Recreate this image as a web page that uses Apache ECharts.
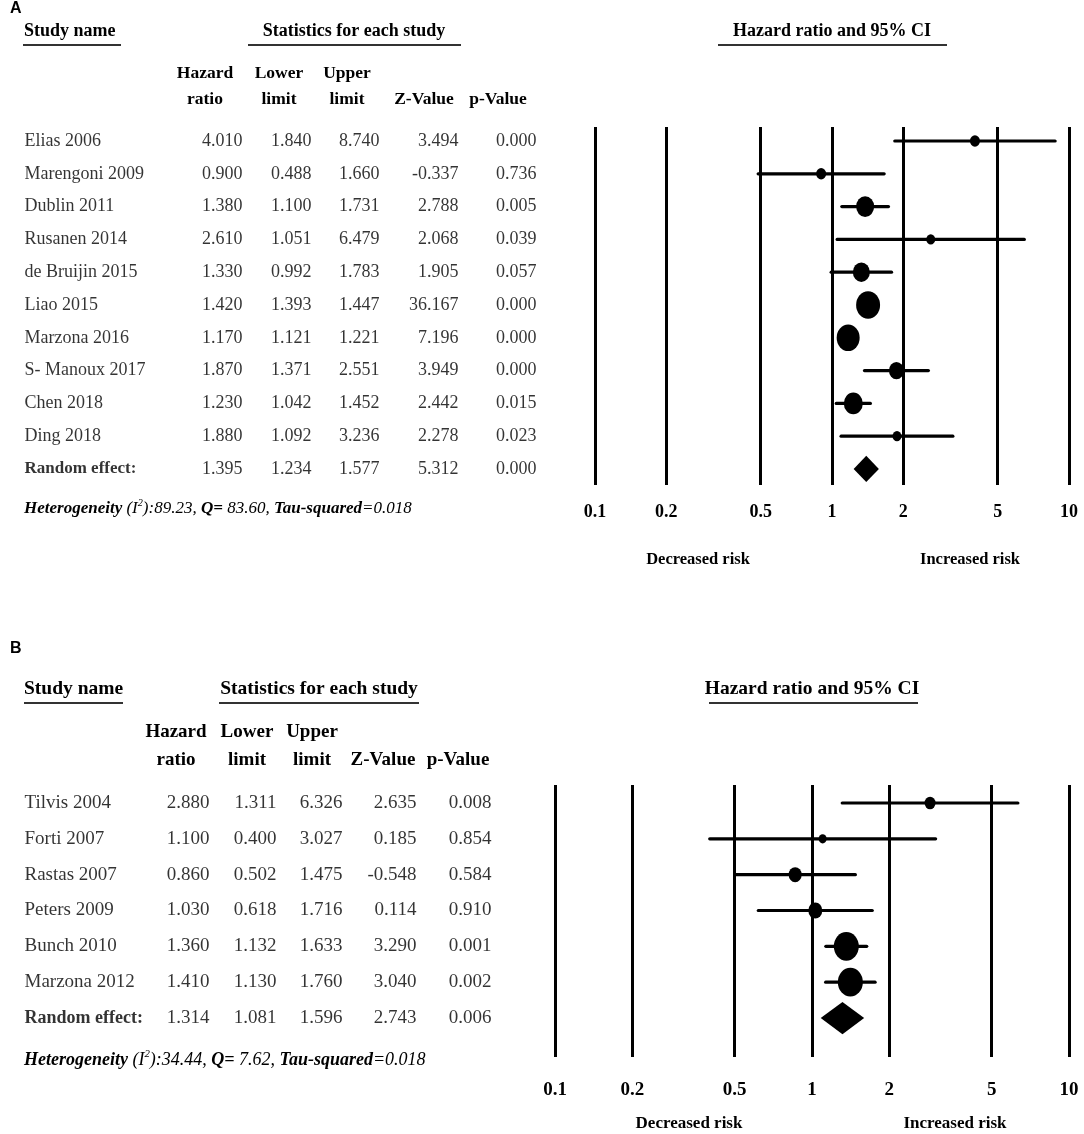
<!DOCTYPE html>
<html><head><meta charset="utf-8">
<script src="https://cdn.jsdelivr.net/npm/echarts@6/dist/echarts.min.js"></script>
<style>html,body{margin:0;padding:0;background:#fff}#c{width:1084px;height:1134px}</style>
</head><body><div id="c"></div>
<script>
// ---------- DATA ----------
const ticks = [0.1, 0.2, 0.5, 1, 2, 5, 10];
const colHeaders = ['Hazard\nratio', 'Lower\nlimit', 'Upper\nlimit', 'Z-Value', 'p-Value'];

const studiesA = ['Elias 2006','Marengoni 2009','Dublin 2011','Rusanen 2014','de Bruijin 2015','Liao 2015','Marzona 2016','S- Manoux 2017','Chen 2018','Ding 2018'];
const hrA    = [4.010, 0.900, 1.380, 2.610, 1.330, 1.420, 1.170, 1.870, 1.230, 1.880];
const lowerA = [1.840, 0.488, 1.100, 1.051, 0.992, 1.393, 1.121, 1.371, 1.042, 1.092];
const upperA = [8.740, 1.660, 1.731, 6.479, 1.783, 1.447, 1.221, 2.551, 1.452, 3.236];
const zA     = [3.494, -0.337, 2.788, 2.068, 1.905, 36.167, 7.196, 3.949, 2.442, 2.278];
const pA     = [0.000, 0.736, 0.005, 0.039, 0.057, 0.000, 0.000, 0.000, 0.015, 0.023];
const weightsA = [4.0, 4.0, 13.0, 3.2, 11.6, 23.0, 21.2, 9.0, 14.4, 3.2];
const pooledA = [1.395, 1.234, 1.577, 5.312, 0.000]; // HR, lower, upper, Z, p
const hetA = ['89.23', '83.60', '0.018'];             // I2, Q, tau-squared

const studiesB = ['Tilvis 2004','Forti 2007','Rastas 2007','Peters 2009','Bunch 2010','Marzona 2012'];
const hrB    = [2.880, 1.100, 0.860, 1.030, 1.360, 1.410];
const lowerB = [1.311, 0.400, 0.502, 0.618, 1.132, 1.130];
const upperB = [6.326, 3.027, 1.475, 1.716, 1.633, 1.760];
const zB     = [2.635, 0.185, -0.548, 0.114, 3.290, 3.040];
const pB     = [0.008, 0.854, 0.584, 0.910, 0.001, 0.002];
const weightsB = [4.8, 2.6, 6.8, 7.8, 25.0, 25.0];
const pooledB = [1.314, 1.081, 1.596, 2.743, 0.006];
const hetB = ['34.44', '7.62', '0.018'];

// ---------- LAYOUT ----------
const SERIF = 'Liberation Serif';
const LA = {
  letter:'A', letterY:9,
  fl:595, fr:1069, top:127, bottom:485, rowMin:-0.427, rowMax:10.488,
  font:18, hFont:18, chFont:17.5, reFont:17, hetFont:17, tickFont:18, tickMargin:18, riskFont:16.5,
  nameX:24, cols:[243,312,380,459,537], chCenters:[205,279,347,424,498], chY1:73, chY2:99,
  titleY:31, ulY:45, studyUl:[23,121], statC:354, statUl:[248,461], hrC:832, hrUl:[718,947],
  hetY:509, riskY:560, decX:698, incX:970, diamondHalf:0.40, sizeK:5, aspect:1.15
};
const LB = {
  letter:'B', letterY:649,
  fl:555, fr:1069, top:785, bottom:1057, rowMin:-0.502, rowMax:7.088,
  font:19, hFont:19.5, chFont:19, reFont:18, hetFont:18, tickFont:19, tickMargin:24, riskFont:17,
  nameX:24, cols:[210,277,343,417,492], chCenters:[176,247,312,383,458], chY1:732, chY2:760,
  titleY:689, ulY:703, studyUl:[24,123], statC:319, statUl:[219,419], hrC:812, hrUl:[709,918],
  hetY:1060, riskY:1124, decX:689, incX:955, diamondHalf:0.45, sizeK:5, aspect:1.15
};

const fmt3 = v => v.toFixed(3);

function buildPanel(P, studies, hr, lo, up, z, p, w, pooled, het, L) {
  const gF = P * 2, gT = P * 2 + 1;
  const grids = [
    {left:L.fl, top:L.top, width:L.fr - L.fl, height:L.bottom - L.top},
    {left:0, top:L.top, width:560, height:L.bottom - L.top}
  ];
  const xAxes = [
    {type:'log', logBase:10, min:0.1, max:10, gridIndex:gF,
     axisLine:{show:false}, axisTick:{show:false}, splitLine:{show:false},
     axisLabel:{customValues:ticks, showMinLabel:true, showMaxLabel:true,
       formatter:v => String(+(+v).toPrecision(3)),
       fontFamily:SERIF, fontWeight:'bold', fontSize:L.tickFont, color:'#000', margin:L.tickMargin}},
    {type:'value', min:0, max:560, gridIndex:gT, show:false}
  ];
  const yAxes = [
    {type:'value', inverse:true, min:L.rowMin, max:L.rowMax, gridIndex:gF, show:false},
    {type:'value', inverse:true, min:L.rowMin, max:L.rowMax, gridIndex:gT, show:false}
  ];
  const n = studies.length;
  const ciData = hr.map((v, i) => [v, i, lo[i], up[i]]);
  const markerData = hr.map((v, i) => [v, i, w[i]]);
  const series = [];
  series.push({
    type:'scatter', xAxisIndex:gF, yAxisIndex:gF, data:[], silent:true, z:1,
    markLine:{symbol:['none','none'], silent:true, animation:false, label:{show:false},
      lineStyle:{color:'#000', width:3, type:'solid'},
      emphasis:{disabled:true},
      data:ticks.map(t => ({xAxis:t}))}
  });
  series.push({
    type:'custom', xAxisIndex:gF, yAxisIndex:gF, z:3, silent:true,
    encode:{x:[0,2,3], y:1}, data:ciData,
    renderItem:(params, api) => {
      const y = api.value(1);
      const a = api.coord([api.value(2), y]);
      const b = api.coord([api.value(3), y]);
      return {type:'line', shape:{x1:a[0], y1:a[1], x2:b[0], y2:b[1]},
        style:{stroke:'#000', lineWidth:3.2, lineCap:'round'}};
    }
  });
  series.push({
    type:'scatter', xAxisIndex:gF, yAxisIndex:gF, z:4, silent:true,
    symbol:'circle', data:markerData,
    symbolSize:v => { const s = L.sizeK * Math.sqrt(v[2]); return [s, s * L.aspect]; },
    itemStyle:{color:'#000', opacity:1}
  });
  series.push({
    type:'custom', xAxisIndex:gF, yAxisIndex:gF, z:4, silent:true,
    encode:{x:[0,2,3], y:1}, data:[[pooled[0], n, pooled[1], pooled[2]]],
    renderItem:(params, api) => {
      const y = api.value(1), h = L.diamondHalf;
      const pts = [api.coord([api.value(2), y]), api.coord([api.value(0), y - h]),
                   api.coord([api.value(3), y]), api.coord([api.value(0), y + h])];
      return {type:'polygon', shape:{points:pts}, style:{fill:'#000'}};
    }
  });
  const tData = [];
  studies.forEach((s, i) => {
    tData.push({value:[L.nameX, i], name:s, label:{position:'right'}});
    [hr[i], lo[i], up[i], z[i], p[i]].forEach((v, c) => {
      tData.push({value:[L.cols[c], i], name:fmt3(v), label:{position:'left'}});
    });
  });
  tData.push({value:[L.nameX, n], name:'Random effect:', label:{position:'right', fontWeight:'bold', fontSize:L.reFont}});
  pooled.forEach((v, c) => tData.push({value:[L.cols[c], n], name:fmt3(v), label:{position:'left'}}));
  series.push({
    type:'scatter', xAxisIndex:gT, yAxisIndex:gT, silent:true, symbolSize:1,
    itemStyle:{color:'rgba(0,0,0,0)'}, data:tData,
    label:{show:true, distance:0, formatter:pr => pr.name, fontFamily:SERIF, fontSize:L.font, color:'#000'},
    labelLayout:{hideOverlap:false}
  });

  const bold = (t, x, y, size, align, extra) => Object.assign({type:'text', x, y, silent:true,
    style:{text:t, fontFamily:SERIF, fontWeight:'bold', fontSize:size, fill:'#000', align:align || 'left', verticalAlign:'middle', lineHeight:26}}, extra || {});
  const uline = (x1, x2, y) => ({type:'line', silent:true, shape:{x1, y1:y, x2, y2:y}, style:{stroke:'#333', lineWidth:2}});
  const g = [];
  g.push({type:'text', x:10, y:L.letterY, silent:true, style:{text:L.letter, fontFamily:'Liberation Sans', fontWeight:'bold', fontSize:16, fill:'#000', verticalAlign:'middle'}});
  g.push(bold('Study name', L.nameX, L.titleY, L.hFont));
  g.push(uline(L.studyUl[0], L.studyUl[1], L.ulY));
  g.push(bold('Statistics for each study', L.statC, L.titleY, L.hFont, 'center'));
  g.push(uline(L.statUl[0], L.statUl[1], L.ulY));
  g.push(bold('Hazard ratio and 95% CI', L.hrC, L.titleY, L.hFont, 'center'));
  g.push(uline(L.hrUl[0], L.hrUl[1], L.ulY));
  colHeaders.forEach((h, c) => {
    const lines = h.split('\n');
    if (lines.length === 2) {
      g.push(bold(lines[0], L.chCenters[c], L.chY1, L.chFont, 'center'));
      g.push(bold(lines[1], L.chCenters[c], L.chY2, L.chFont, 'center'));
    } else {
      g.push(bold(lines[0], L.chCenters[c], L.chY2, L.chFont, 'center'));
    }
  });
  const hf = L.hetFont;
  g.push({type:'text', x:L.nameX, y:L.hetY, silent:true, style:{
    text:'{b|Heterogeneity }{i|(I}{s|2}{i|):' + het[0] + ', }{b|Q= }{i|' + het[1] + ', }{b|Tau-squared}{i|=' + het[2] + '}',
    verticalAlign:'middle', fill:'#000',
    rich:{
      b:{fontFamily:SERIF, fontStyle:'italic', fontWeight:'bold', fontSize:hf, fill:'#000', lineHeight:hf + 4},
      i:{fontFamily:SERIF, fontStyle:'italic', fontSize:hf, fill:'#000', lineHeight:hf + 4},
      s:{fontFamily:SERIF, fontStyle:'italic', fontSize:hf * 0.6, fill:'#000', verticalAlign:'top', lineHeight:hf + 4}
    }}});
  g.push(bold('Decreased risk', L.decX, L.riskY, L.riskFont, 'center'));
  g.push(bold('Increased risk', L.incX, L.riskY, L.riskFont, 'center'));
  return {grids, xAxes, yAxes, series, graphic:g};
}

const pa = buildPanel(0, studiesA, hrA, lowerA, upperA, zA, pA, weightsA, pooledA, hetA, LA);
const pb = buildPanel(1, studiesB, hrB, lowerB, upperB, zB, pB, weightsB, pooledB, hetB, LB);

const chart = echarts.init(document.getElementById('c'), null, {renderer:'canvas'});
chart.setOption({
  animation:false,
  backgroundColor:'#fff',
  grid:[...pa.grids, ...pb.grids],
  xAxis:[...pa.xAxes, ...pb.xAxes],
  yAxis:[...pa.yAxes, ...pb.yAxes],
  series:[...pa.series, ...pb.series],
  graphic:{elements:[...pa.graphic, ...pb.graphic]}
});
</script>
</body></html>
